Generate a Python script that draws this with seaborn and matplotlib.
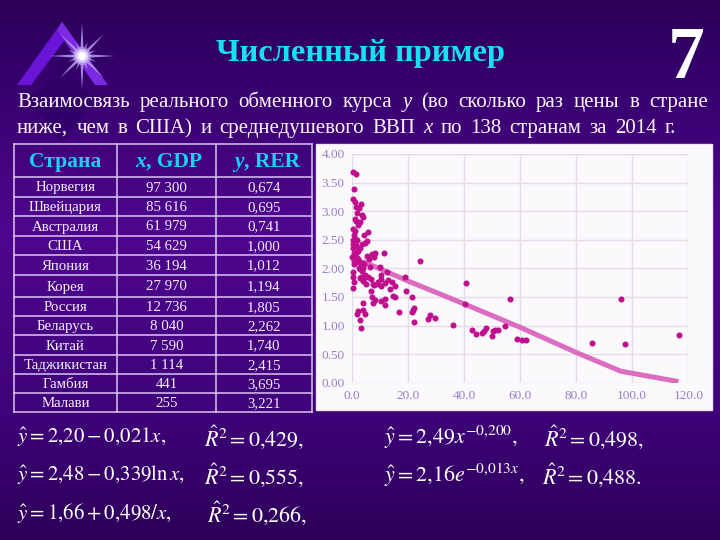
import numpy as np
import pandas as pd
import matplotlib
matplotlib.use("Agg")
import matplotlib.pyplot as plt
from matplotlib.patches import Polygon, Rectangle
import seaborn as sns

gdp = [0.4,1.4,0.7,0.4,1.3,3.4,1.4,2.6,1.9,3.8,4.2,1.2,1.5,3.1,2.3,0.4,1.0,5.9,4.5,0.7,1.3,5.5,0.4,1.8,4.8,0.6,3.6,1.2,3.1,
       11.4,8.2,7.2,0.7,1.5,5.5,0.6,8.1,6.0,0.2,1.3,2.1,0.7,1.5,2.7,3.7,24.5,4.5,3.3,2.5,3.9,3.1,10.0,6.5,0.6,12.5,4.9,10.5,
       0.4,3.3,5.7,19.0,0.7,3.9,6.9,10.5,12.8,14.4,12.0,5.1,8.1,9.4,10.5,15.5,13.5,0.4,6.8,19.5,7.2,14.6,15.6,21.4,12.0,8.4,
       10.6,7.7,4.2,11.8,22.3,22.0,21.6,16.9,2.4,4.0,1.8,4.8,28.0,29.7,27.2,22.2,3.1,3.2,36.2,54.6,40.9,40.3,56.3,42.8,44.3,
       46.3,47.0,47.8,49.9,50.3,51.2,52.2,58.9,60.7,62.0,85.6,97.3,96.0,116.7,
       0.9,1.7,2.2,1.0,0.5,3.4,2.9,4.1,4.4,7.6,9.2,3.6,0.9,1.9]
rer = [3.69,3.65,3.38,3.22,3.16,3.12,3.07,3.05,2.97,2.93,2.89,2.87,2.83,2.81,2.75,2.69,2.66,2.63,2.58,2.58,2.52,2.48,2.50,2.50,2.44,2.43,2.43,2.39,2.36,
       2.27,2.26,2.25,2.26,2.26,2.22,2.20,2.20,2.16,2.19,2.17,2.16,2.13,2.11,2.12,2.10,2.13,2.07,2.04,2.01,2.00,1.99,2.03,2.02,1.93,1.93,1.89,1.88,
       1.84,1.85,1.84,1.84,1.77,1.80,1.81,1.81,1.80,1.76,1.74,1.73,1.71,1.72,1.69,1.70,1.64,1.66,1.61,1.60,1.50,1.52,1.50,1.50,1.47,1.45,
       1.43,1.40,1.39,1.36,1.31,1.27,1.24,1.24,1.26,1.27,1.21,1.21,1.19,1.13,1.11,1.06,1.09,0.96,1.01,1.00,1.74,1.37,1.47,0.92,0.85,
       0.87,0.91,0.96,0.82,0.90,0.93,0.93,0.77,0.75,0.74,0.695,0.674,1.46,0.84,
       2.47,2.40,2.30,2.21,2.35,2.06,1.83,1.78,1.85,1.72,1.76,1.95,2.08,2.18]
trend_x = [4.0, 20.0, 40.0, 60.0, 80.0, 96.0, 116.5]
trend_y = [2.12, 1.78, 1.38, 0.97, 0.53, 0.20, 0.02]
x_ticks = [0, 20, 40, 60, 80, 100, 120]
y_ticks = [0, 0.5, 1, 1.5, 2, 2.5, 3, 3.5, 4]

countries = ["Норвегия","Швейцария","Австралия","США","Япония","Корея","Россия","Беларусь","Китай","Таджикистан","Гамбия","Малави"]
gdp_labels = ["97 300","85 616","61 979","54 629","36 194","27 970","12 736","8 040","7 590","1 114","441","255"]
rer_labels = ["0,674","0,695","0,741","1,000","1,012","1,194","1,805","2,262","1,740","2,415","3,695","3,221"]
row_lines = [177,197,216,236,255,275,297,316,335,355,374,393,412]
col_lines = [14,117,216,312]

SERIF = "Liberation Serif"
plt.rcParams["mathtext.fontset"] = "stix"
sns.set_theme(style="white")
plt.rcParams["font.family"] = [SERIF, "DejaVu Serif"]

fig = plt.figure(figsize=(7.2, 5.4), dpi=100)
bg = fig.add_axes([0, 0, 1, 1])
bg.set_xlim(0, 720); bg.set_ylim(540, 0); bg.axis("off")

# background gradient
stops_y = [0, 60, 230, 420, 540]
stops_c = np.array([[0x2c,0x00,0x58],[0x33,0x00,0x68],[0x4e,0x06,0x8e],[0x3e,0x02,0x78],[0x2c,0x00,0x58]]) / 255
ys = np.arange(540)
grad = np.stack([np.interp(ys, stops_y, stops_c[:, i]) for i in range(3)], axis=1)[:, None, :]
bg.imshow(grad, extent=(0, 720, 540, 0), aspect="auto", zorder=0)
bg.set_xlim(0, 720); bg.set_ylim(540, 0)

# logo
bg.add_patch(Polygon([(62,68),(95,100),(62,143),(29,100)], closed=True, fc="#2c0062", ec="none", alpha=.55, zorder=1))
bg.add_patch(Polygon([(17,85),(62,22),(70,33),(31,85)], closed=True, fc="#6a14d8", ec="none", zorder=2))
bg.add_patch(Polygon([(62,22),(108,85),(95,85),(57,30)], closed=True, fc="#7a2ae0", ec="none", zorder=2))
for i, ang in enumerate(np.arange(0, 360, 22.5)):
    a = np.radians(ang)
    r = 33 if i % 4 == 0 else (31 if i % 2 == 0 else 15)
    w = 2.0
    d = np.array([np.cos(a), np.sin(a)]); n = np.array([-d[1], d[0]])
    c = np.array([82, 56])
    bg.add_patch(Polygon([c + n*w, c + d*r, c - n*w], closed=True, fc="#b89cf0", ec="none", alpha=.85, zorder=3))
for rad, col, al in [(9, "#c8aef8", .5), (6.5, "#e4d8fc", .8), (4, "#ffffff", 1)]:
    t = np.linspace(0, 2*np.pi, 40)
    bg.add_patch(Polygon(np.c_[82 + rad*np.cos(t), 56 + rad*np.sin(t)], closed=True, fc=col, ec="none", alpha=al, zorder=4))

# titles
bg.text(360, 53, "Численный пример", color="#19e0f0", fontsize=23.3, fontweight="bold", ha="center", va="center", zorder=5)
bg.text(686, 60, "7", color="white", fontsize=53, fontweight="bold", ha="center", va="center", zorder=5)

# justified paragraph
def justified(words, x0, x1, y, size):
    r = fig.canvas.get_renderer()
    items = [bg.text(0, y, w, color="#fff4ff", fontsize=size, style=s, va="baseline", zorder=5) for w, s in words]
    widths = [t.get_window_extent(r).width for t in items]
    gap = (x1 - x0 - sum(widths)) / (len(items) - 1)
    x = x0
    for t, w in zip(items, widths):
        t.set_x(x); x += w + gap

line1 = "Взаимосвязь реального обменного курса y (во сколько раз цены в стране".split()
justified([(w, "italic" if w == "y" else "normal") for w in line1], 17, 708, 107, 15.0)
line2 = "ниже, чем в США) и среднедушевого ВВП x по 138 странам за 2014 г.".split()
justified([(w, "italic" if w == "x" else "normal") for w in line2], 17, 676, 133, 15.0)

# table
TC = "#dcc4f4"
for yy in [144] + row_lines:
    bg.plot([col_lines[0], col_lines[-1]], [yy, yy], color=TC, lw=1.1, zorder=5, solid_capstyle="projecting")
for xx in col_lines:
    bg.plot([xx, xx], [144, row_lines[-1]], color=TC, lw=1.1, zorder=5, solid_capstyle="projecting")
col_cx = [(col_lines[i] + col_lines[i+1]) / 2 for i in range(3)]
hdr = dict(color="#19d0f5", fontsize=15.5, fontweight="bold", va="baseline", zorder=6)
bg.text(col_cx[0], 167, "Страна", ha="center", **hdr)
bg.text(col_cx[1] - 20, 167, "x", ha="right", **{**hdr, "style": "italic"})
bg.text(col_cx[1] - 20, 167, ", GDP", ha="left", **hdr)
bg.text(col_cx[2] - 20, 167, "y", ha="right", **{**hdr, "style": "italic"})
bg.text(col_cx[2] - 20, 167, ", RER", ha="left", **hdr)
for i in range(12):
    yb = (row_lines[i] + row_lines[i+1]) / 2 + 4.5
    for cx, s in zip(col_cx, (countries[i], gdp_labels[i], rer_labels[i])):
        bg.text(cx, yb, s, color="#f4ecff", fontsize=10.7, ha="center", va="baseline", zorder=6)

# equations
eqs = [
 (17, 437, r"$\hat{y}=2{,}20-0{,}021x,$", 15.0), (204, 437, r"$\hat{R}^2=0{,}429,$", 15.8),
 (17, 475, r"$\hat{y}=2{,}48-0{,}339\ln x,$", 15.0), (204, 475, r"$\hat{R}^2=0{,}555,$", 15.8),
 (17, 513, r"$\hat{y}=1{,}66+0{,}498/x,$", 15.0), (207, 513, r"$\hat{R}^2=0{,}266,$", 15.8),
 (384, 437, r"$\hat{y}=2{,}49x^{-0{,}200},$", 15.8), (544, 437, r"$\hat{R}^2=0{,}498,$", 15.8),
 (384, 475, r"$\hat{y}=2{,}16e^{-0{,}013x},$", 15.8), (542, 475, r"$\hat{R}^2=0{,}488.$", 15.8),
]
for x, y, s, fs in eqs:
    bg.text(x, y, s, color="white", fontsize=fs, ha="left", va="center", zorder=5)

# chart panel
bg.add_patch(Rectangle((316, 144), 396, 266, fc="#fbf9fc", ec="#efe6f6", lw=1, zorder=5))

left, right, top, bottom = 351.7, 688.3, 154.0, 382.7
ax = fig.add_axes([left/720, 1 - bottom/540, (right-left)/720, (bottom-top)/540])
ax.patch.set_alpha(0)
df_points = pd.DataFrame({"gdp": gdp, "rer": rer})
df_trend = pd.DataFrame({"gdp": trend_x, "rer": trend_y})
sns.lineplot(data=df_trend, x="gdp", y="rer", color="#dc6cc0", lw=3.6, ax=ax, zorder=3, solid_capstyle="butt", solid_joinstyle="round")
sns.scatterplot(data=df_points, x="gdp", y="rer", color="#bf0f8e", s=19, linewidth=0, ax=ax, zorder=4, clip_on=False)
ax.set_xlim(0, 120); ax.set_ylim(0, 4)
ax.set_xticks(x_ticks); ax.set_yticks(y_ticks)
ax.set_xticklabels([f"{v:.1f}" for v in x_ticks])
ax.set_yticklabels([f"{v:.2f}" for v in y_ticks])
ax.set_xlabel(""); ax.set_ylabel("")
ax.grid(True, color="#e2dcec", lw=1)
ax.set_axisbelow(True)
for s in ax.spines.values():
    s.set_visible(False)
ax.tick_params(length=0, labelsize=9.5, labelcolor="#9280c8", pad=5)
fig.savefig("out.png", dpi=100)
